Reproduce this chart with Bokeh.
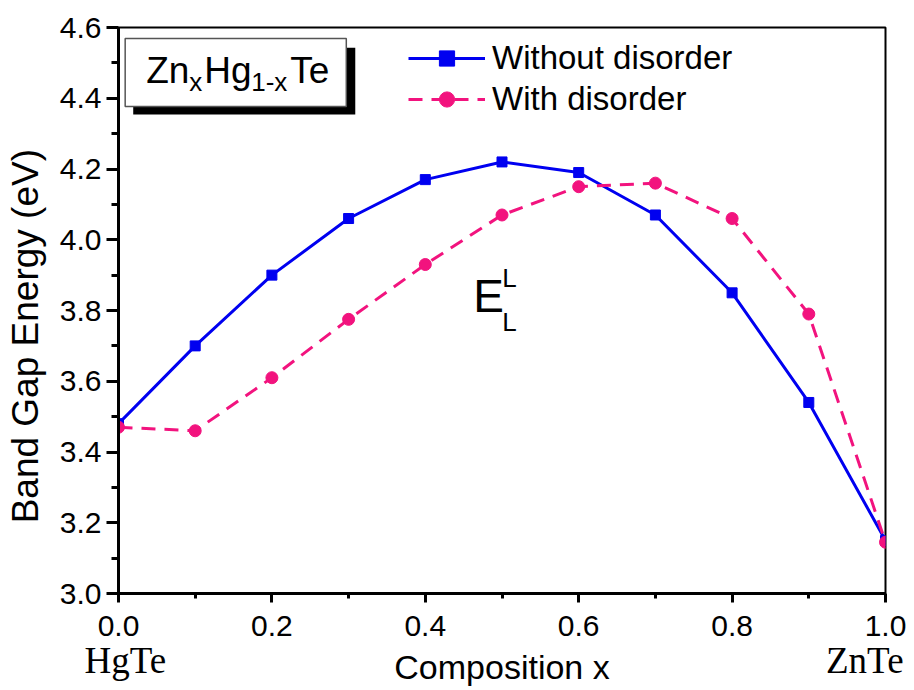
from bokeh.plotting import figure
from bokeh.models import (Range1d, FixedTicker, NumeralTickFormatter, Legend, LegendItem,
                          Label, BoxAnnotation, LinearAxis, CustomJSTickFormatter)
from bokeh.embed import file_html
from bokeh.resources import INLINE

# ---------------- data ----------------
composition = [0.0, 0.1, 0.2, 0.3, 0.4, 0.5, 0.6, 0.7, 0.8, 0.9, 1.0]
without_disorder = [3.48, 3.70, 3.90, 4.06, 4.17, 4.22, 4.19, 4.07, 3.85, 3.54, 3.15]
with_disorder = [3.47, 3.46, 3.61, 3.775, 3.93, 4.07, 4.15, 4.16, 4.06, 3.79, 3.145]

x_major = [0.0, 0.2, 0.4, 0.6, 0.8, 1.0]
x_minor = [0.1, 0.3, 0.5, 0.7, 0.9]
y_major = [3.0, 3.2, 3.4, 3.6, 3.8, 4.0, 4.2, 4.4, 4.6]
y_minor = [3.1, 3.3, 3.5, 3.7, 3.9, 4.1, 4.3, 4.5]
end_members = ["HgTe", "ZnTe"]
end_member_pos = [0.009, 0.973]

series_labels = ["Without disorder", "With disorder"]

BLUE = "#0000F0"
PINK = "#F2137E"
SANS = "Liberation Sans"
SERIF = "Liberation Serif"

p = figure(width=912, height=688, x_range=Range1d(0, 1), y_range=Range1d(3.0, 4.6),
           output_backend="svg", toolbar_location=None,
           min_border_left=118, min_border_right=27, min_border_top=27, min_border_bottom=95)
p.xgrid.visible = False
p.ygrid.visible = False
p.outline_line_color = "black"
p.outline_line_width = 2
p.background_fill_color = "white"
p.border_fill_color = "white"

# axes
xa = p.xaxis[0]
xa.ticker = FixedTicker(ticks=x_major, minor_ticks=x_minor)
xa.formatter = NumeralTickFormatter(format="0.0")
ya = p.yaxis[0]
ya.ticker = FixedTicker(ticks=y_major, minor_ticks=y_minor)
ya.formatter = NumeralTickFormatter(format="0.0")
for ax, mo, mi in ((xa, 9, 5), (ya, 12, 7)):
    ax.axis_line_width = 3
    ax.axis_line_color = "black"
    ax.major_tick_line_width = 3
    ax.minor_tick_line_width = 3
    ax.major_tick_in = 0
    ax.major_tick_out = mo
    ax.minor_tick_in = 0
    ax.minor_tick_out = mi
    ax.major_label_text_font = SANS
    ax.major_label_text_font_size = "30px"
    ax.major_label_text_color = "black"
xa.major_label_standoff = 13
ya.major_label_standoff = 5
ya.axis_label = "Band Gap Energy (eV)" + "\u00a0" * 5
ya.axis_label_text_font = SANS
ya.axis_label_text_font_size = "37px"
ya.axis_label_text_font_style = "normal"
ya.axis_label_text_color = "black"
ya.axis_label_standoff = 11

# second bottom axis: end-member names + axis title
xb = LinearAxis(ticker=FixedTicker(ticks=end_member_pos, minor_ticks=[]),
                formatter=CustomJSTickFormatter(args=dict(names=end_members),
                                                code="return names[index]"))
xb.axis_line_alpha = 0
xb.major_tick_out = 0
xb.major_tick_in = 0
xb.minor_tick_out = 0
xb.minor_tick_in = 0
xb.major_label_standoff = 1
xb.major_label_text_font = SERIF
xb.major_label_text_font_size = "37px"
xb.major_label_text_color = "black"
xb.axis_label = "Composition x"
xb.axis_label_text_font = SANS
xb.axis_label_text_font_size = "34px"
xb.axis_label_text_font_style = "normal"
xb.axis_label_text_color = "black"
xb.axis_label_standoff = -36
p.add_layout(xb, "below")

# series
l1 = p.line(composition, without_disorder, line_color=BLUE, line_width=3)
s1 = p.scatter(composition, without_disorder, marker="square", size=10,
               fill_color=BLUE, line_color=BLUE)
l2 = p.line(composition, with_disorder, line_color=PINK, line_width=3, line_dash="14 9")
s2 = p.scatter(composition, with_disorder, marker="circle", size=12,
               fill_color=PINK, line_color=PINK)

legend = Legend(items=[LegendItem(label=series_labels[0], renderers=[l1, s1]),
                       LegendItem(label=series_labels[1], renderers=[l2, s2])],
                location=(290, 475), orientation="vertical", padding=0, margin=0, spacing=3,
                glyph_width=77, glyph_height=38, label_height=38, label_standoff=7,
                label_text_font=SANS, label_text_font_size="33px", label_text_color="black",
                border_line_alpha=0, background_fill_alpha=0)
p.add_layout(legend)

# inset title box with shadow
p.add_layout(BoxAnnotation(left=0.0192, right=0.3087, top=4.543, bottom=4.354,
                           fill_color="black", fill_alpha=1, line_alpha=0))
p.add_layout(BoxAnnotation(left=0.0087, right=0.297, top=4.569, bottom=4.3766,
                           fill_color="white", fill_alpha=1, line_color="#555555",
                           line_width=1.5, line_alpha=1))


def lab(x, y, text, size, font=SANS):
    p.add_layout(Label(x=x, y=y, text=text, text_font=font, text_font_size=size,
                       text_align="left", text_baseline="alphabetic", text_color="black"))


def dx(px):
    return (px - 118.3) / 766.7


def dy(py):
    return 3.0 + (593.3 - py) / 354.0


lab(dx(146), dy(70), "Zn", "37px")
lab(dx(189), dy(81), "x", "26px")
lab(dx(204), dy(70), "Hg", "37px")
lab(dx(251), dy(81), "1-x", "26px")
lab(dx(290), dy(70), "Te", "37px")

# E_L^L
lab(dx(473), dy(296), "E", "46px")
lab(dx(502), dy(278), "L", "26px")
lab(dx(502), dy(322), "L", "26px")

open("out.html", "w").write(file_html(p, INLINE))
